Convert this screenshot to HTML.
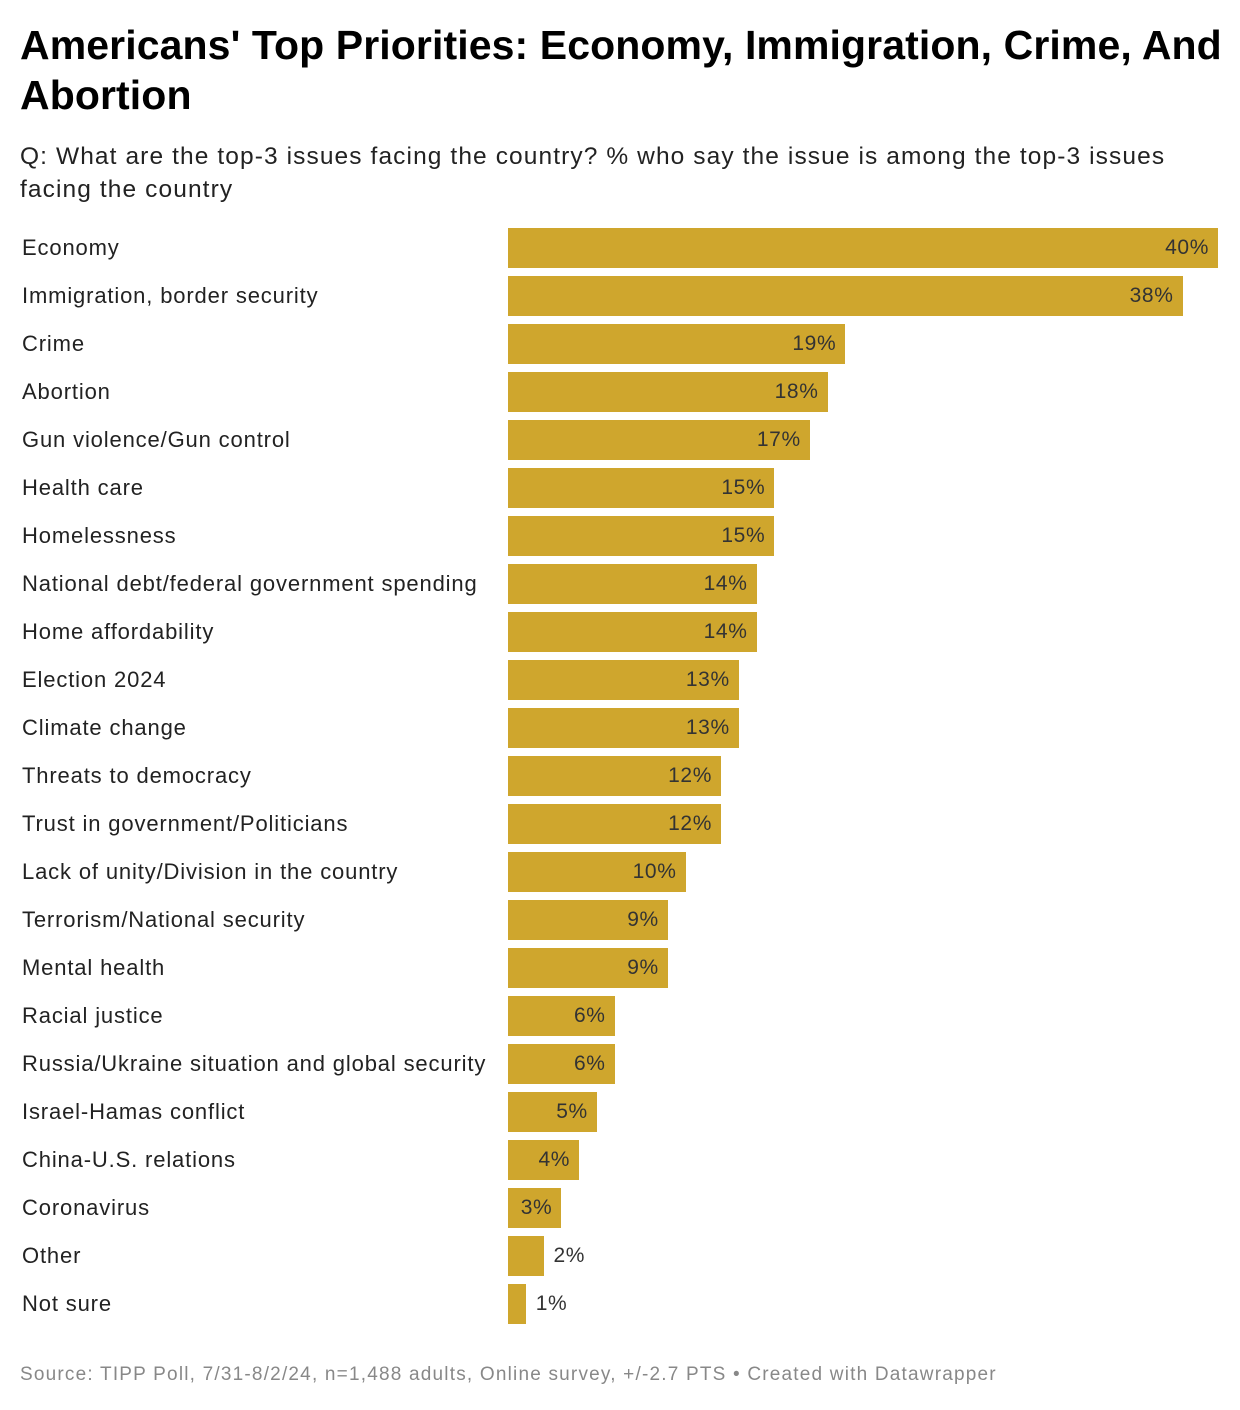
<!DOCTYPE html>
<html><head><meta charset="utf-8"><style>
body{margin:0;background:#fff;font-family:"Liberation Sans",sans-serif;width:1240px;height:1410px;position:relative;overflow:hidden}
#title{position:absolute;left:20px;top:20px;width:1215px;font-size:41px;font-weight:bold;line-height:50px;color:#000;margin:0;letter-spacing:0.1px}
#sub{position:absolute;left:20px;top:140px;width:1200px;font-size:24.5px;line-height:33px;color:#222;letter-spacing:1.1px}
#src{position:absolute;left:20px;top:1364px;font-size:19px;color:#888;letter-spacing:1.2px}
.lbl{position:absolute;left:22px;font-size:22px;color:#222;line-height:40px;white-space:nowrap;letter-spacing:0.85px}
.bar{position:absolute;background:#cfa62d;height:40px}
.val{position:absolute;font-size:21px;color:#333;line-height:40px;letter-spacing:0.6px}
</style></head><body>
<h1 id="title">Americans' Top Priorities: Economy, Immigration, Crime, And Abortion</h1>
<div id="sub">Q: What are the top-3 issues facing the country? % who say the issue is among the top-3 issues facing the country</div>
<div id="chart"></div>
<div id="src">Source: TIPP Poll, 7/31-8/2/24, n=1,488 adults, Online survey, +/-2.7 PTS • Created with Datawrapper</div>
<script>
const categories=["Economy","Immigration, border security","Crime","Abortion","Gun violence/Gun control","Health care","Homelessness","National debt/federal government spending","Home affordability","Election 2024","Climate change","Threats to democracy","Trust in government/Politicians","Lack of unity/Division in the country","Terrorism/National security","Mental health","Racial justice","Russia/Ukraine situation and global security","Israel-Hamas conflict","China-U.S. relations","Coronavirus","Other","Not sure"];
const values=[40,38,19,18,17,15,15,14,14,13,13,12,12,10,9,9,6,6,5,4,3,2,1];
const x0=508,scale=710/40,top0=228,pitch=48;
const xs=v=>v*scale, ys=i=>top0+i*pitch;
const c=document.getElementById('chart');
categories.forEach((cat,i)=>{
  const y=ys(i),w=xs(values[i]);
  const l=document.createElement('div');l.className='lbl';l.style.top=y+'px';l.textContent=cat;
  
  
  c.appendChild(l);
  const b=document.createElement('div');b.className='bar';b.style.left=x0+'px';b.style.top=y+'px';b.style.width=w+'px';
  
  
  c.appendChild(b);
  const v=document.createElement('div');v.className='val';v.style.top=y+'px';v.textContent=values[i]+'%';
  
  
  c.appendChild(v);
  if(w>50){v.style.right=(1240-(x0+w)+9)+'px';}else{v.style.left=(x0+w+10)+'px';}
});
</script>
</body></html>
